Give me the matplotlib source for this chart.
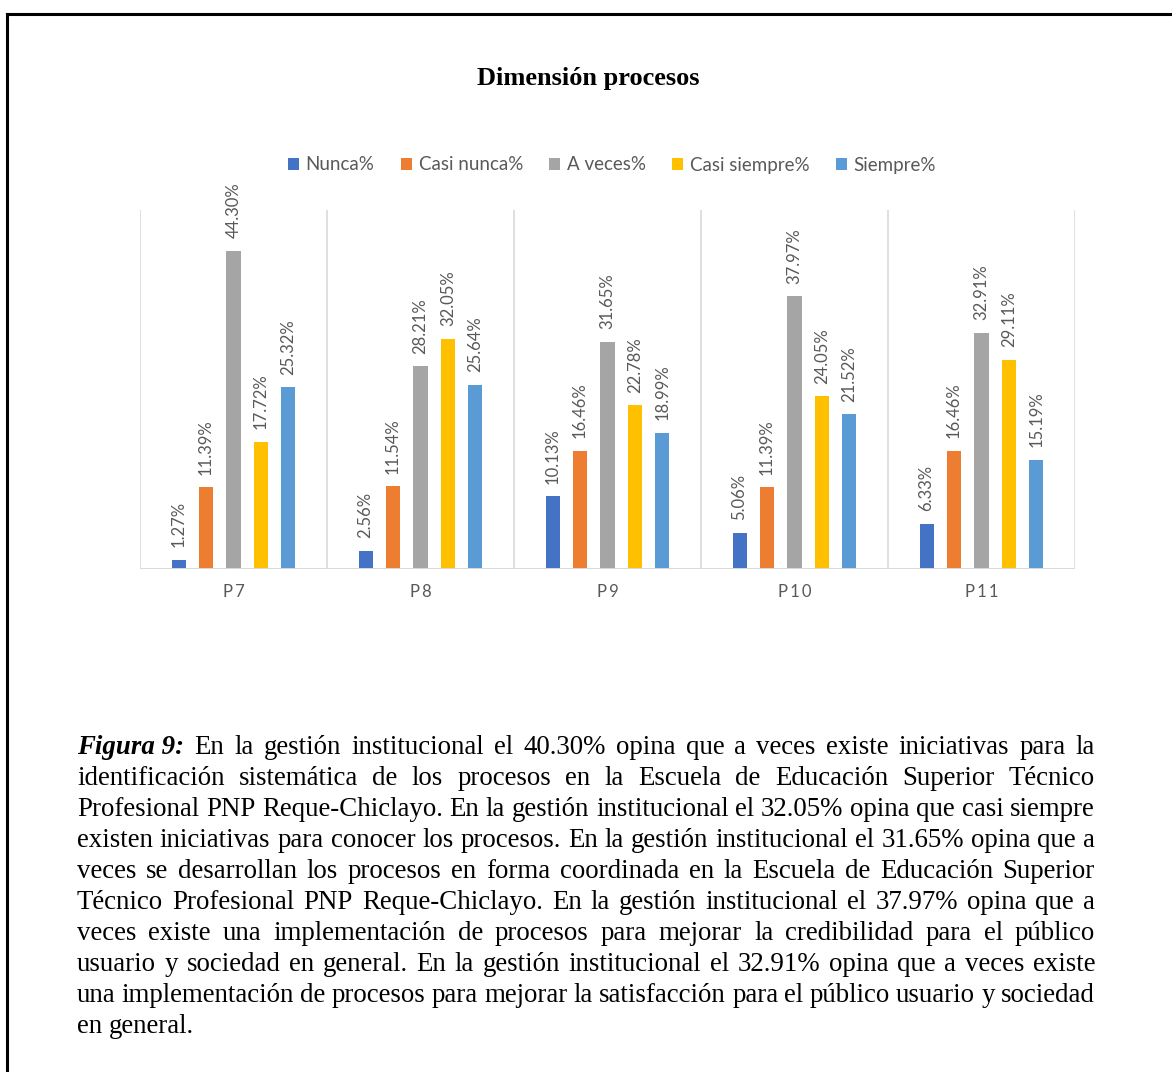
import numpy as np
import matplotlib
matplotlib.use('Agg')
import matplotlib.pyplot as plt
from matplotlib.lines import Line2D

# survey answers per question, in percent
preguntas = ['P7', 'P8', 'P9', 'P10', 'P11']
series = ['Nunca%', 'Casi nunca%', 'A veces%', 'Casi siempre%', 'Siempre%']
nunca = [1.27, 2.56, 10.13, 5.06, 6.33]
casi_nunca = [11.39, 11.54, 16.46, 11.39, 16.46]
a_veces = [44.30, 28.21, 31.65, 37.97, 32.91]
casi_siempre = [17.72, 32.05, 22.78, 24.05, 29.11]
siempre = [25.32, 25.64, 18.99, 21.52, 15.19]
valores = [nunca, casi_nunca, a_veces, casi_siempre, siempre]
colores = ['#4472C4', '#ED7D31', '#A5A5A5', '#FFC000', '#5B9BD5']

titulo = 'Dimensión procesos'
pie_lineas = [
    'En la gestión institucional el 40.30% opina que a veces existe iniciativas para la',
    'identificación sistemática de los procesos en la Escuela de Educación Superior Técnico',
    'Profesional PNP Reque-Chiclayo. En la gestión institucional el 32.05% opina que casi siempre',
    'existen iniciativas para conocer los procesos. En la gestión institucional el 31.65% opina que a',
    'veces se desarrollan los procesos en forma coordinada en la Escuela de Educación Superior',
    'Técnico Profesional PNP Reque-Chiclayo. En la gestión institucional el 37.97% opina que a',
    'veces existe una implementación de procesos para mejorar la credibilidad para el público',
    'usuario y sociedad en general. En la gestión institucional el 32.91% opina que a veces existe',
    'una implementación de procesos para mejorar la satisfacción para el público usuario y sociedad',
    'en general.',
]

W, H = 1172, 1072
fig = plt.figure(figsize=(W / 100, H / 100), dpi=100)
gris = '#595959'
sans = ['Lato', 'DejaVu Sans']
serif = ['Liberation Serif', 'DejaVu Serif']

# page frame (top and left edges)
fig.add_artist(Line2D([7 / W, 1], [1 - 14 / H, 1 - 14 / H], transform=fig.transFigure, color='black', lw=2.2))
fig.add_artist(Line2D([7 / W, 7 / W], [0, 1 - 14 / H], transform=fig.transFigure, color='black', lw=2.2))

fig.text(588 / W, 1 - 78 / H, titulo, ha='center', va='center', fontsize=19,
         fontweight='bold', family=serif)

ax = fig.add_axes([140 / W, 1 - 569 / H, (1075 - 140) / W, (569 - 210) / H])
x = np.arange(len(preguntas))
paso = 0.147
ancho = 0.075
for i, (nombre, vals, c) in enumerate(zip(series, valores, colores)):
    pos = x + (i - 2) * paso
    ax.bar(pos, vals, width=ancho, color=c, label=nombre, zorder=3)
    for px, v in zip(pos, vals):
        ax.annotate('%.2f%%' % v, (px, v), xytext=(0, 9), textcoords='offset points',
                    rotation=90, ha='center', va='bottom', fontsize=12, color=gris,
                    family=sans)

ax.set_xlim(-0.5, len(preguntas) - 0.5)
ax.set_ylim(0, 50)
for b in np.arange(-0.5, len(preguntas), 1.0):
    ax.axvline(b, color='#D9D9D9', lw=1.2, zorder=1)
for s in ax.spines.values():
    s.set_visible(False)
ax.axhline(0, color='#D9D9D9', lw=1.4, zorder=4)
ax.set_yticks([])
ax.set_xticks(x)
ax.set_xticklabels(['\u2009'.join(p) for p in preguntas], color=gris, fontsize=12, family=sans)
ax.tick_params(axis='x', length=0, pad=11)

leg = fig.legend(loc='center', bbox_to_anchor=(612 / W, 1 - 165 / H), ncol=5, frameon=False,
                 handlelength=0.6, handleheight=0.6, handletextpad=0.35, columnspacing=1.4,
                 prop={'family': sans, 'size': 13.5})
for t in leg.get_texts():
    t.set_color(gris)

# justified caption below the chart
renderer = fig.canvas.get_renderer()
izq, der = 77, 1095
base0, salto = 754, 31.0
normal = dict(fontsize=19.4, family=serif, color='black')
negrita = dict(fontsize=19.4, family=serif, color='black', fontweight='bold', style='italic')


def ancho_px(texto, estilo):
    t = fig.text(0, 0, texto, **estilo)
    w = t.get_window_extent(renderer).width
    t.remove()
    return w


for n, linea in enumerate(pie_lineas):
    palabras = [(p, normal) for p in linea.split(' ')]
    if n == 0:
        palabras = [('Figura 9:', negrita)] + palabras
    anchos = [ancho_px(p, e) for p, e in palabras]
    if n < len(pie_lineas) - 1:
        hueco = (der - izq - sum(anchos)) / (len(palabras) - 1)
    else:
        hueco = ancho_px('a b', normal) - ancho_px('ab', normal)
    xp = izq
    y = 1 - (base0 + n * salto) / H
    for (p, e), w in zip(palabras, anchos):
        fig.text(xp / W, y, p, ha='left', va='baseline', **e)
        xp += w + hueco

fig.savefig('out.png', dpi=100)
